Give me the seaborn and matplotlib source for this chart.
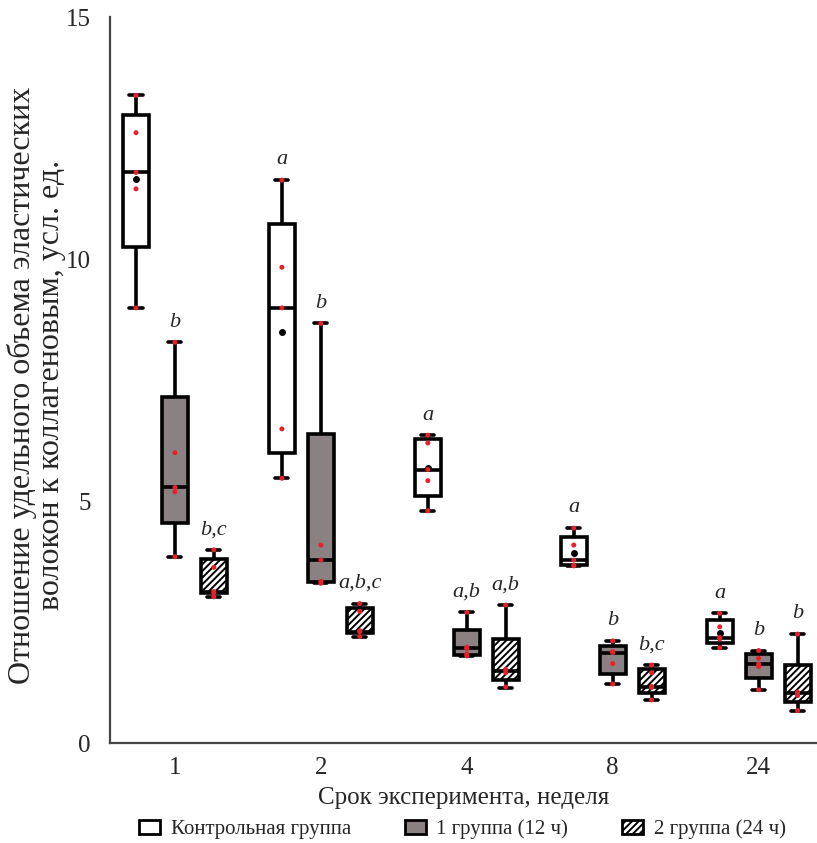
import numpy as np
import pandas as pd
import seaborn as sns
import matplotlib.pyplot as plt
from matplotlib.patches import Patch, PathPatch

sns.set_style("white")
plt.rcParams['font.family'] = ['Liberation Serif', 'DejaVu Serif']
plt.rcParams['hatch.color'] = 'black'
plt.rcParams['hatch.linewidth'] = 1.4

weeks = ["1", "2", "4", "8", "24"]
groups = ["Контрольная группа", "1 группа (12 ч)", "2 группа (24 ч)"]

# статистика ящиков: нижний ус, Q1, медиана, Q3, верхний ус
ctrl_box = [[8.99, 10.25, 11.79, 12.97, 13.38],
            [5.47, 6.00, 8.99, 10.72, 11.63],
            [4.80, 5.11, 5.65, 6.28, 6.36],
            [3.66, 3.68, 3.78, 4.25, 4.44],
            [1.97, 2.06, 2.18, 2.54, 2.68]]
g1_box = [[3.85, 4.54, 5.28, 7.14, 8.28],
          [3.30, 3.32, 3.78, 6.38, 8.67],
          [1.80, 1.82, 1.96, 2.33, 2.70],
          [1.22, 1.43, 1.87, 2.00, 2.11],
          [1.10, 1.34, 1.63, 1.83, 1.91]]
g2_box = [[3.02, 3.09, 3.12, 3.80, 3.99],
          [2.20, 2.27, 2.29, 2.80, 2.88],
          [1.14, 1.31, 1.49, 2.14, 2.85],
          [0.89, 1.03, 1.16, 1.53, 1.61],
          [0.67, 0.84, 1.03, 1.61, 2.25]]

# отдельные наблюдения (красные точки)
ctrl_pts = [[8.99, 11.45, 11.79, 12.61, 13.38],
            [5.47, 6.49, 8.99, 9.83, 11.63],
            [4.80, 5.42, 5.65, 6.20, 6.36],
            [3.66, 3.67, 3.78, 4.09, 4.44],
            [1.97, 2.15, 2.18, 2.40, 2.68]]
g1_pts = [[3.85, 5.19, 5.28, 6.00, 8.28],
          [3.30, 3.34, 3.78, 4.09, 8.67],
          [1.80, 1.84, 1.95, 1.98, 2.70],
          [1.22, 1.64, 1.87, 1.89, 2.11],
          [1.10, 1.58, 1.63, 1.75, 1.91]]
g2_pts = [[3.02, 3.10, 3.13, 3.63, 3.99],
          [2.20, 2.30, 2.32, 2.72, 2.88],
          [1.16, 1.45, 1.50, 1.52, 2.85],
          [0.89, 1.15, 1.17, 1.45, 1.61],
          [0.67, 0.98, 1.03, 1.05, 2.25]]

letters = [["", "b", "b,c"],
           ["a", "b", "a,b,c"],
           ["a", "a,b", "a,b"],
           ["a", "b", "b,c"],
           ["a", "b", "b"]]

boxes = {groups[0]: ctrl_box, groups[1]: g1_box, groups[2]: g2_box}
points = {groups[0]: ctrl_pts, groups[1]: g1_pts, groups[2]: g2_pts}

rows = []
for g in groups:
    for w, st in zip(weeks, boxes[g]):
        for v in st:
            rows.append((w, g, v))
df_box = pd.DataFrame(rows, columns=["week", "group", "value"])

rows = []
for g in groups:
    for w, p in zip(weeks, points[g]):
        for v in p:
            rows.append((w, g, v))
df_pts = pd.DataFrame(rows, columns=["week", "group", "value"])

df_mean = pd.DataFrame({"week": weeks, "group": groups[0],
                        "value": [np.mean(p) for p in ctrl_pts]})

fig = plt.figure(figsize=(8.17, 8.43), dpi=100)
ax = fig.add_axes([0.1346, 0.1186, 0.8654, 0.8612])

pal = {groups[0]: "white", groups[1]: "#8a8282", groups[2]: "white"}
sns.boxplot(data=df_box, x="week", y="value", hue="group", order=weeks, hue_order=groups,
            palette=pal, saturation=1, width=0.8, gap=0.33, whis=(0, 100),
            linecolor="black", linewidth=2.6, fliersize=0, legend=False, ax=ax)

# штриховка для 2 группы
for p in ax.patches:
    if isinstance(p, PathPatch):
        cx = p.get_path().vertices[:, 0].mean()
        if cx - round(cx) > 0.1:
            p.set_hatch("/////")

sns.stripplot(data=df_mean, x="week", y="value", hue="group", order=weeks, hue_order=groups,
              dodge=True, jitter=False, palette={g: "black" for g in groups},
              size=5, legend=False, ax=ax, zorder=4)
sns.stripplot(data=df_pts, x="week", y="value", hue="group", order=weeks, hue_order=groups,
              dodge=True, jitter=False, palette={g: "#e8202a" for g in groups},
              size=3.6, linewidth=0, legend=False, ax=ax, zorder=5)

offs = [-0.8 / 3, 0, 0.8 / 3]
for i, w in enumerate(weeks):
    for j, g in enumerate(groups):
        if letters[i][j]:
            ax.text(i + offs[j], boxes[g][i][4] + 0.22, letters[i][j], ha="center", va="bottom",
                    fontsize=16, style="italic")

ax.set_xlim(-0.445, 4.40)
ax.set_ylim(0, 15)
ax.set_yticks([0, 5, 10, 15])
sns.despine(ax=ax)
for s in ["left", "bottom"]:
    ax.spines[s].set_color("#444444")
    ax.spines[s].set_linewidth(1.6)
ax.tick_params(direction="in", length=8, width=1.3, color="#444444", labelsize=18)
ax.tick_params(axis="x", pad=10)
ax.tick_params(axis="y", pad=14)

ax.set_xlabel("Срок эксперимента, неделя", fontsize=18, labelpad=6)
ax.set_ylabel("Отношение удельного объема эластических\nволокон к коллагеновым, усл. ед.",
              fontsize=23, linespacing=1.0)
ax.yaxis.set_label_coords(-0.062, 0.493)

handles = [Patch(facecolor="white", edgecolor="black", linewidth=2),
           Patch(facecolor="#8a8282", edgecolor="black", linewidth=2),
           Patch(facecolor="white", edgecolor="black", linewidth=2, hatch="/////")]
fig.legend(handles, groups, loc="lower center", bbox_to_anchor=(0.566, -0.018), ncol=3,
           frameon=False, fontsize=15, handlelength=1.0, handleheight=0.7,
           columnspacing=2.6, handletextpad=0.5)

fig.savefig("out.png", dpi=100)
